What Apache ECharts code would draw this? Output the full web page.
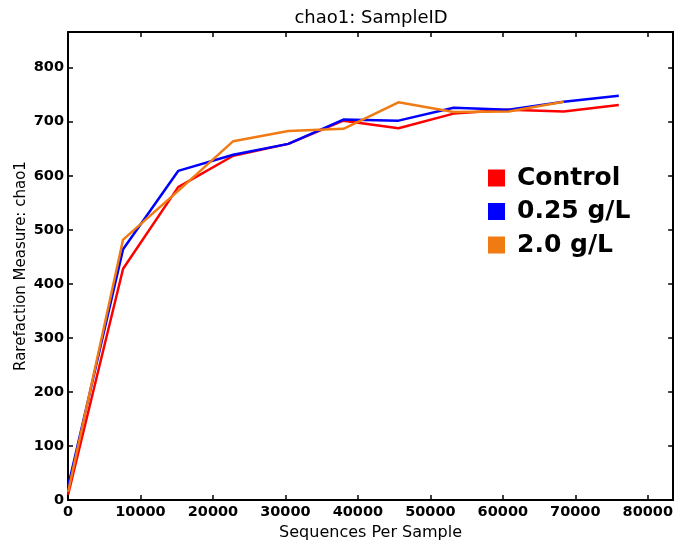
<!DOCTYPE html>
<html>
<head>
<meta charset="utf-8">
<script src="https://cdn.jsdelivr.net/npm/echarts@6/dist/echarts.min.js"></script>
<style>
  html, body { margin: 0; padding: 0; background: #ffffff; }
  #main { width: 676px; height: 546px; }
</style>
</head>
<body>
<div id="main"></div>
<script>
// sequences per sample (x) and chao1 values for each group
var seqDepth = [10, 7600, 15200, 22800, 30400, 38000, 45600, 53200, 60800, 68400, 76000];
var control = [10, 428, 579, 637, 659, 702, 688, 715, 722, 719, 731];
var low = [25, 464, 609, 639, 659, 704, 702, 726, 722, 737, 748];
var high = [15, 482, 572, 664, 683, 687, 736, 718, 719, 737];
var names = ['Control', '0.25 g/L', '2.0 g/L'];
var colors = ['#ff0000', '#0000ff', '#f07b12'];

function pairs(vals) {
  return vals.map(function (v, i) { return [seqDepth[i], v]; });
}

var chart = echarts.init(document.getElementById('main'));

var tickFont = {
  color: '#000',
  fontFamily: 'DejaVu Sans',
  fontSize: 14.5,
  fontWeight: 'bold',
  formatter: function (v) { return String(v); }
};
var spine = { show: true, onZero: false, lineStyle: { color: '#000', width: 2 } };
var ticks = { show: true, inside: true, length: 5, lineStyle: { color: '#000', width: 1.5 } };

var option = {
  animation: false,
  color: colors,
  title: {
    text: 'chao1: SampleID',
    left: 371,
    textAlign: 'center',
    top: 9,
    padding: 0,
    textStyle: { color: '#000', fontFamily: 'DejaVu Sans', fontSize: 18, fontWeight: 'normal' }
  },
  legend: {
    orient: 'vertical',
    left: 488,
    top: 164,
    padding: 0,
    itemWidth: 17,
    itemHeight: 17,
    itemGap: 5.5,
    icon: 'rect',
    data: names,
    textStyle: {
      color: '#000',
      fontFamily: 'DejaVu Sans',
      fontSize: 25,
      fontWeight: 'bold',
      lineHeight: 28,
      padding: [0, 0, 0, 7]
    }
  },
  grid: { left: 68, top: 32, right: 2, bottom: 44, containLabel: false },
  xAxis: [
    {
      type: 'value',
      min: 0,
      max: 83500,
      interval: 10000,
      name: 'Sequences Per Sample',
      nameLocation: 'middle',
      nameGap: 22,
      nameTextStyle: { color: '#000', fontFamily: 'DejaVu Sans', fontSize: 16 },
      axisLine: spine,
      axisTick: ticks,
      splitLine: { show: false },
      axisLabel: Object.assign({ margin: 5, showMaxLabel: false }, tickFont)
    },
    {
      type: 'value',
      position: 'top',
      min: 0,
      max: 83500,
      interval: 10000,
      axisLine: spine,
      axisTick: ticks,
      splitLine: { show: false },
      axisLabel: { show: false }
    }
  ],
  yAxis: [
    {
      type: 'value',
      min: 0,
      max: 866,
      interval: 100,
      name: 'Rarefaction Measure: chao1',
      nameLocation: 'middle',
      nameGap: 39,
      nameMoveOverlap: false,
      nameTextStyle: { color: '#000', fontFamily: 'DejaVu Sans', fontSize: 15 },
      axisLine: spine,
      axisTick: ticks,
      splitLine: { show: false },
      axisLabel: Object.assign({ margin: 4, showMaxLabel: false }, tickFont)
    },
    {
      type: 'value',
      position: 'right',
      min: 0,
      max: 866,
      interval: 100,
      axisLine: spine,
      axisTick: ticks,
      splitLine: { show: false },
      axisLabel: { show: false }
    }
  ],
  series: [
    {
      name: names[0],
      type: 'line',
      showSymbol: false,
      lineStyle: { width: 2.5 },
      data: pairs(control)
    },
    {
      name: names[1],
      type: 'line',
      showSymbol: false,
      lineStyle: { width: 2.5 },
      data: pairs(low)
    },
    {
      name: names[2],
      type: 'line',
      showSymbol: false,
      lineStyle: { width: 2.5 },
      data: pairs(high)
    }
  ]
};

chart.setOption(option);
window.addEventListener('resize', function () {
  chart.resize();
});
</script>
</body>
</html>
